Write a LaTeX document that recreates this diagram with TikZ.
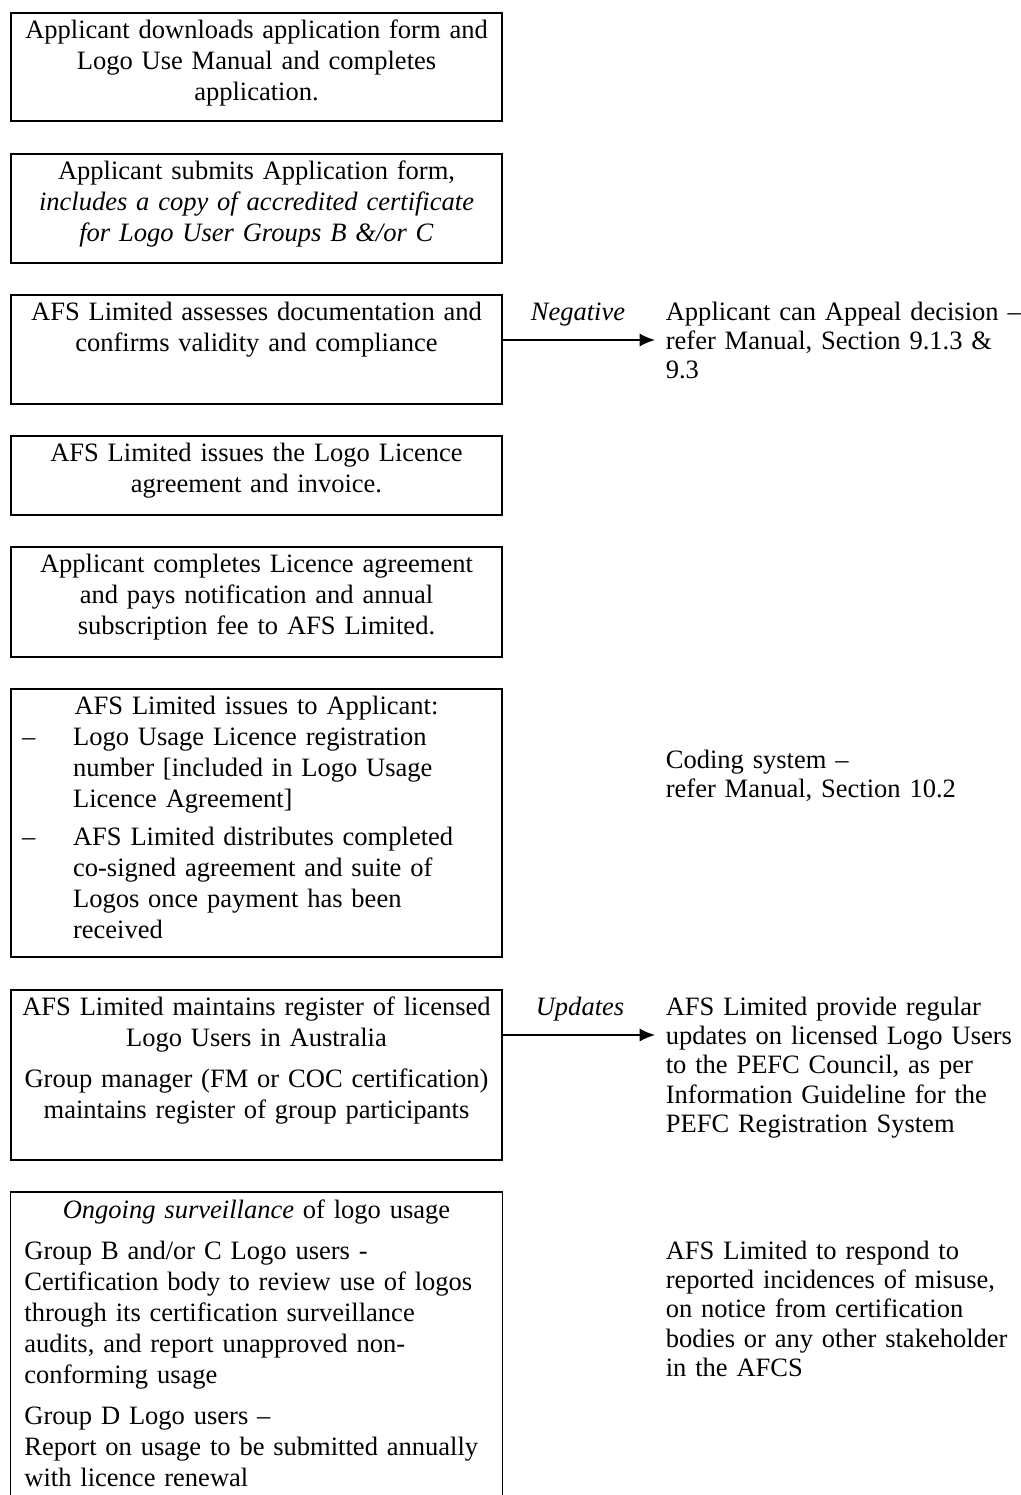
\documentclass[tikz,border=0pt]{standalone}
\usepackage{fontspec}
\setmainfont{Liberation Serif}
\usepackage{tikz}
\usetikzlibrary{arrows.meta}
\usetikzlibrary{positioning}

\begin{document}
\begin{tikzpicture}[x=0.4525pt, y=-0.4525pt, line width=0.75pt,
    every node/.style={font=\fontsize{12pt}{14pt}\selectfont},
    stage/.style={draw=black, anchor=north, text width=212pt, inner xsep=5pt, inner ysep=0pt, text height=11.8pt, align=center},
    note/.style={anchor=base west, inner sep=0pt, text width=170pt, align=left, font=\fontsize{12pt}{13.3pt}\selectfont},
    flow/.style={-{Latex[length=7pt,width=6pt]}}]
        \useasboundingbox (0,0) rectangle (1020,1495);

        % stages
        \node (s1) at (256.5,12) [stage, text depth=37.1pt] {Applicant downloads application form and\\ Logo Use Manual and completes\\ application.};
        \node (s2) at (256.5,153) [stage, text depth=37.5pt] {Applicant submits Application form,\\ \textit{includes a copy of accredited certificate}\\ \textit{for Logo User Groups B \&/or C}};
        \node (s3) at (256.5,294) [stage, text depth=37.5pt] {AFS Limited assesses documentation and\\ confirms validity and compliance};
        \node (s4) at (256.5,435) [stage, text depth=24pt] {AFS Limited issues the Logo Licence\\ agreement and invoice.};
        \node (s5) at (256.5,546) [stage, text depth=38pt] {Applicant completes Licence agreement\\ and pays notification and annual\\ subscription fee to AFS Limited.};
        \node (s6) at (256.5,688) [stage, text depth=109.5pt, align=left] {\makebox[\linewidth]{AFS Limited issues to Applicant:}\\
            \makebox[23pt][l]{–}Logo Usage Licence registration\\
            \hspace*{23pt}number [included in Logo Usage\\
            \hspace*{23pt}Licence Agreement]\\[3pt]
            \makebox[23pt][l]{–}AFS Limited distributes completed\\
            \hspace*{23pt}co-signed agreement and suite of\\
            \hspace*{23pt}Logos once payment has been\\
            \hspace*{23pt}received};
        \node (s7) at (256.5,989) [stage, text depth=65.1pt] {AFS Limited maintains register of licensed\\ Logo Users in Australia\\[4.5pt] Group manager (FM or COC certification)\\ maintains register of group participants};
        \node (s8) at (256.5,1192) [stage, draw=none, text depth=127.7pt, align=left, inner xsep=6pt, text width=210pt] {\makebox[\linewidth]{\textit{Ongoing surveillance} of logo usage}\\[4.5pt]
            Group B and/or C Logo users -\\
            Certification body to review use of logos\\
            through its certification surveillance\\
            audits, and report unapproved non-\\
            conforming usage\\[4.5pt]
            Group D Logo users –\\
            Report on usage to be submitted annually\\
            with licence renewal};
        \draw (s8.south west) -- (s8.north west) -- (s8.north east) -- (s8.south east);

        % outcomes
        \node (neg) at (530,320) [note, text width=45pt] {\textit{Negative}};
        \node (appeal) at (665,320) [note] {Applicant can Appeal decision –\\ refer Manual, Section 9.1.3 \&\\ 9.3};
        \node (code) at (665,768) [note] {Coding system –\\ refer Manual, Section 10.2};
        \node (upd) at (535,1015) [note, text width=45pt] {\textit{Updates}};
        \node (pefc) at (665,1015) [note] {AFS Limited provide regular\\ updates on licensed Logo Users\\ to the PEFC Council, as per\\ Information Guideline for the\\ PEFC Registration System};
        \node (misuse) at (665,1259) [note] {AFS Limited to respond to\\ reported incidences of misuse,\\ on notice from certification\\ bodies or any other stakeholder\\ in the AFCS};

        % connections
        \coordinate (negtip) at (655,340);
        \coordinate (updtip) at (655,1035);
        \draw[flow] (s3.east |- negtip) -- (negtip);
        \draw[flow] (s7.east |- updtip) -- (updtip);
\end{tikzpicture}
\end{document}
